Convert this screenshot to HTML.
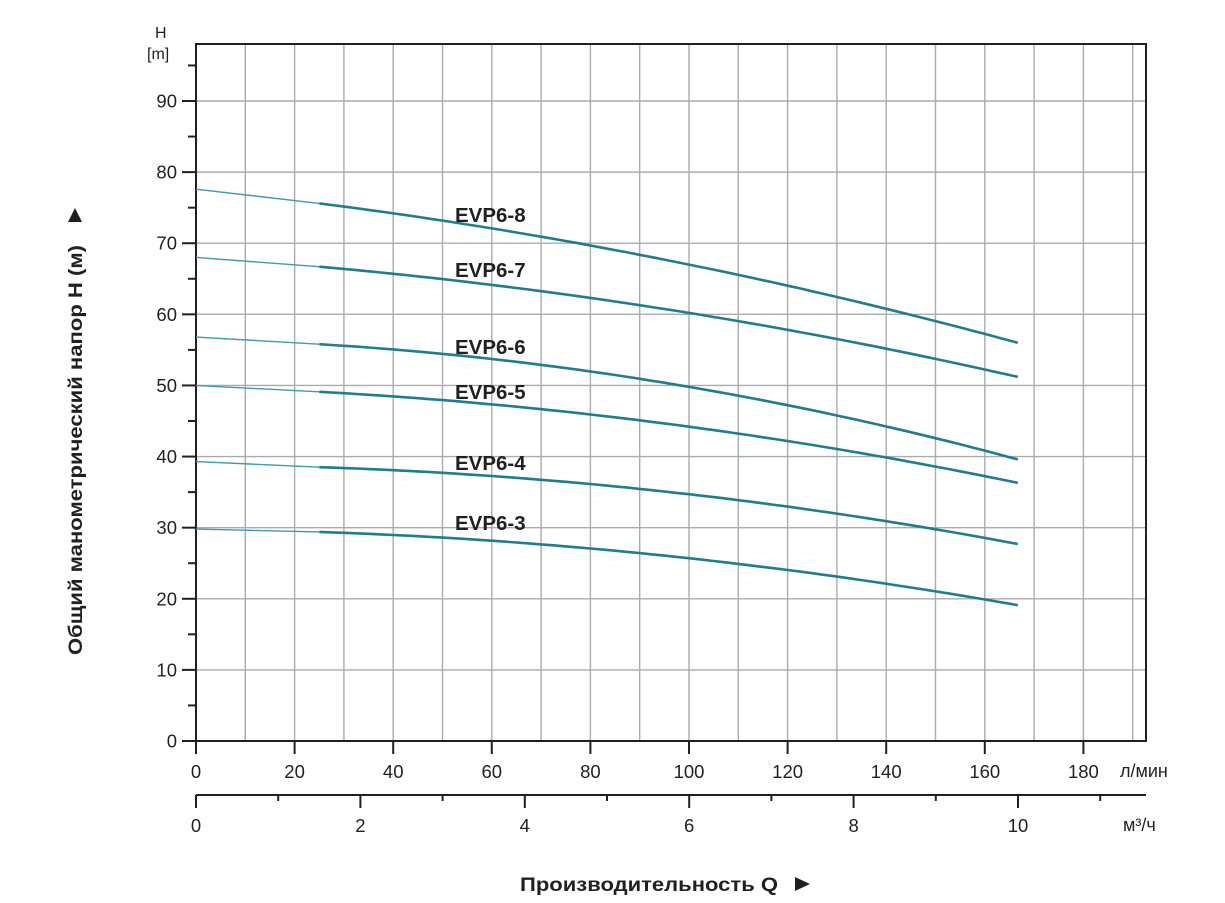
<!DOCTYPE html>
<html><head><meta charset="utf-8"><style>
html,body{margin:0;padding:0;background:#fff;}
svg{display:block;font-family:"Liberation Sans",sans-serif;}
</style></head><body>
<svg id="s" width="1225" height="903" viewBox="0 0 1225 903" xmlns="http://www.w3.org/2000/svg">
<g id="grid" stroke="#ababab" stroke-width="1.4"></g>
<rect x="196" y="44" width="950" height="697" fill="none" stroke="#231f20" stroke-width="2"/>
<g id="ticks" stroke="#231f20" stroke-width="2"></g>
<g id="lbl" font-size="18.5" fill="#231f20"></g>
<g id="curves" fill="none"></g>
<g font-size="20.5" font-weight="bold" fill="#231f20">
<text x="455" y="222">EVP6-8</text>
<text x="455" y="277">EVP6-7</text>
<text x="455" y="354">EVP6-6</text>
<text x="455" y="399">EVP6-5</text>
<text x="455" y="470">EVP6-4</text>
<text x="455" y="530">EVP6-3</text>
</g>
<text x="155" y="38" font-size="16" fill="#231f20">H</text>
<text x="147" y="59" font-size="16" fill="#231f20">[m]</text>
<text x="1120" y="777" font-size="18" fill="#231f20">л/мин</text>
<text x="1123" y="831" font-size="18" fill="#231f20">м³/ч</text>
<text x="520" y="891" font-size="19" font-weight="bold" fill="#231f20" textLength="258" lengthAdjust="spacingAndGlyphs">Производительность Q</text>
<polygon points="795,877 795,891 810,884" fill="#231f20"/>
<text transform="translate(82,655) rotate(-90)" font-size="19" font-weight="bold" fill="#231f20" textLength="410" lengthAdjust="spacingAndGlyphs">Общий манометрический напор H (м)</text>
<polygon points="68,222 82,222 75,208" fill="#231f20"/>
</svg>
<script>
const NS="http://www.w3.org/2000/svg";
const X=q=>196+q*4.93, Y=h=>741-h*7.111, XM=m=>196+m*82.2;
function el(p,t,a,txt){const e=document.createElementNS(NS,t);for(const k in a)e.setAttribute(k,a[k]);if(txt!=null)e.textContent=txt;document.getElementById(p).appendChild(e);}
for(let q=10;q<=190;q+=10)el("grid","line",{x1:X(q),y1:44,x2:X(q),y2:741});
for(let h=10;h<=90;h+=10)el("grid","line",{x1:196,y1:Y(h),x2:1146,y2:Y(h)});
for(let h=0;h<=95;h+=5){const w=h%10==0?14:8;el("ticks","line",{x1:196-w,y1:Y(h),x2:196,y2:Y(h)});if(h%10==0)el("lbl","text",{x:177,y:Y(h)+6.5,"text-anchor":"end"},h);}
for(let q=0;q<=180;q+=20){el("ticks","line",{x1:X(q),y1:741,x2:X(q),y2:754});el("lbl","text",{x:X(q),y:778,"text-anchor":"middle"},q);}
el("ticks","line",{x1:196,y1:795,x2:1146,y2:795});
for(let m=0;m<=11;m+=1){const mj=m%2==0;el("ticks","line",{x1:XM(m),y1:795,x2:XM(m),y2:mj?808:801});if(mj)el("lbl","text",{x:XM(m),y:832,"text-anchor":"middle"},m);}
const C=[[77.6,75.6,67,61,56],[68,66.7,60.2,null,51.2],[56.8,55.8,49.8,null,39.6],[50,49.1,44.2,null,36.3],[39.3,38.5,34.7,null,27.7],[29.8,29.4,25.7,null,19.1]];
for(const c of C){
 el("curves","line",{x1:X(0),y1:Y(c[0]),x2:X(25),y2:Y(c[1]),stroke:"#3f9bab","stroke-width":1.4});
 const xs=[25,100,166.7],ys=[c[1],c[2],c[4]];
 const L=x=>{let s=0;for(let i=0;i<3;i++){let t=ys[i];for(let j=0;j<3;j++)if(j!=i)t*=(x-xs[j])/(xs[i]-xs[j]);s+=t;}return s;};
 let d="";for(let x=25;x<=166.7;x+=2.5)d+=(d?"L":"M")+X(x).toFixed(1)+","+Y(L(x)).toFixed(1);
 d+="L"+X(166.7).toFixed(1)+","+Y(c[4]).toFixed(1);
 el("curves","path",{d:d,stroke:"#1f7d8e","stroke-width":2.6});
}
</script>
</body></html>
